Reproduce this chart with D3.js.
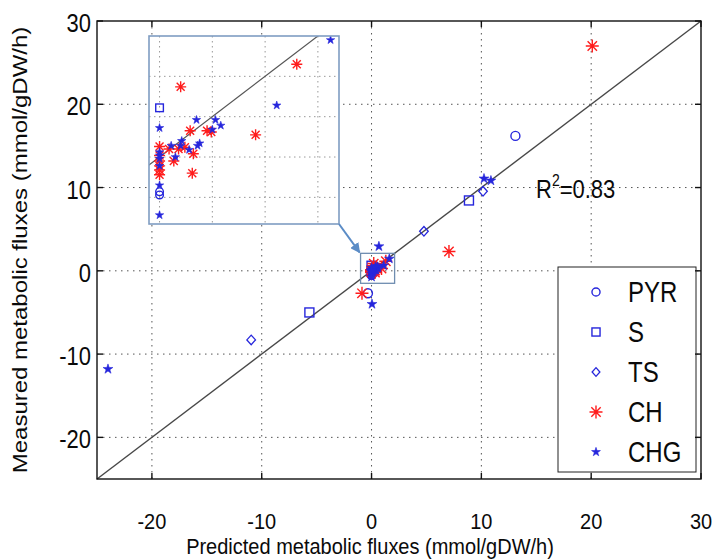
<!DOCTYPE html>
<html>
<head>
<meta charset="utf-8">
<script src="https://cdn.jsdelivr.net/npm/d3@7"></script>
<style>
  body { margin: 0; background: #fff; }
  text { font-family: "Liberation Sans", Arial, Helvetica, sans-serif; fill: #0a0a0a; }
</style>
</head>
<body>
<div id="container"></div>
<script>
// chart size
const WIDTH = 723;
const HEIGHT = 559;
const BLUE = "#2626dc";
const RED = "#ff1c1c";
// the source figure is stretched vertically, text too
const STRETCH = 1.2;

// tick values
const xTicks = [-20, -10, 0, 10, 20, 30];
const yTicks = [-20, -10, 0, 10, 20, 30];
const insetTicks = [0, 0.5, 1, 1.5];
const insetYTicks = [-0.5, 0, 0.5, 1];

// series (predicted = x, measured = y)
const seriesNames = ["PYR", "S", "TS", "CH", "CHG"];

const pyrPred = [13.1, -0.33, 0.0, 0.0];
const pyrMeas = [16.2, -2.7, -0.43, -0.47];

const sPred = [8.87, -5.66, 0.0];
const sMeas = [8.45, -5.0, 0.61];

const tsPred = [10.15, 4.77, -10.96];
const tsMeas = [9.55, 4.75, -8.3];

const chPred = [20.1, 7.05, -0.87, 1.30, 0.20, 0.29, 0.45, 0.49, 0.91, 0.0, 0.09, 0.18, 0.24, 0.32, 0.0, 0.0, 0.135, 0.0, 0.0, 0.31, 0.0];
const chMeas = [27.0, 2.32, -2.7, 1.15, 0.87, 0.325, 0.325, 0.31, 0.275, 0.13, 0.10, 0.10, 0.12, 0.04, 0.02, -0.05, -0.05, -0.11, -0.22, -0.20, -0.16];

const chgPred = [10.24, 10.87, 0.67, 0.04, -24.0, 1.62, 1.11, 0.0, 0.35, 0.53, 0.58, 0.50, 0.21, 0.38, 0.36, 0.11, 0.20, 0.28, 0.0, 0.0, 0.15, 0.0, 0.0, 0.0, 0.0];
const chgMeas = [11.07, 10.83, 2.93, -4.0, -11.8, 1.45, 0.64, 0.36, 0.46, 0.46, 0.39, 0.34, 0.20, 0.17, 0.14, 0.14, 0.14, 0.09, 0.02, -0.02, 0.0, -0.11, -0.35, -0.72, 0.06];

const r2Label = "0.83";

// zoom window shown in the inset
const zoomX = [-1.0, 2.1];
const zoomY = [-1.5, 2.1];
const insetX = [-0.1, 1.7];
const insetY = [-0.83, 1.5];

const series = [
    { name: "PYR", type: "circle", px: pyrPred, py: pyrMeas },
    { name: "S", type: "square", px: sPred, py: sMeas },
    { name: "TS", type: "diamond", px: tsPred, py: tsMeas },
    { name: "CH", type: "asterisk", px: chPred, py: chMeas },
    { name: "CHG", type: "star", px: chgPred, py: chgMeas }
];

const svg = d3.select("#container")
    .append("svg")
    .attr("width", WIDTH)
    .attr("height", HEIGHT);

// main plot box
const plot = { left: 97, right: 701, top: 21, bottom: 479 };

const xScale = d3.scaleLinear().domain([-25, 30]).range([plot.left, plot.right]);
const yScale = d3.scaleLinear().domain([-25, 30]).range([plot.bottom, plot.top]);

// text stretched vertically like the source
const addText = (g, x, y, str, size, anchor, rotate, stretch) => {
    return g.append("text")
        .attr("transform", `translate(${x},${y}) scale(1,${stretch || STRETCH})` + (rotate ? " rotate(-90)" : ""))
        .attr("text-anchor", anchor || "start")
        .style("font-size", size + "px")
        .text(str);
};

// draw one marker at pixel position
const drawMarker = (g, type, cx, cy, scale) => {
    const k = scale || 1;
    if (type === "circle") {
        g.append("circle").attr("cx", cx).attr("cy", cy).attr("r", 4.5 * k)
            .attr("fill", "none").attr("stroke", BLUE).attr("stroke-width", 1.4);
    } else if (type === "square") {
        const s = 4.5 * k;
        g.append("rect").attr("x", cx - s).attr("y", cy - s).attr("width", 2 * s).attr("height", 2 * s)
            .attr("fill", "none").attr("stroke", BLUE).attr("stroke-width", 1.4);
    } else if (type === "diamond") {
        const s = 4.8 * k;
        g.append("path")
            .attr("d", `M${cx},${cy - s}L${cx + s * 0.9},${cy}L${cx},${cy + s}L${cx - s * 0.9},${cy}Z`)
            .attr("fill", "none").attr("stroke", BLUE).attr("stroke-width", 1.3);
    } else if (type === "asterisk") {
        const s = 6.5 * k;
        const d = s * 0.72;
        g.append("path")
            .attr("d", `M${cx - s},${cy}L${cx + s},${cy}M${cx},${cy - s}L${cx},${cy + s}` +
                `M${cx - d},${cy - d}L${cx + d},${cy + d}M${cx - d},${cy + d}L${cx + d},${cy - d}`)
            .attr("stroke", RED).attr("stroke-width", 1.4);
    } else {
        g.append("path")
            .attr("d", d3.symbol().type(d3.symbolStar).size(30 * k * k)())
            .attr("transform", `translate(${cx},${cy})`)
            .attr("fill", BLUE).attr("stroke", BLUE).attr("stroke-width", 0.6);
    }
};

// grid (matlab dotted)
const grid = svg.append("g");
xTicks.filter((t) => t < 30).forEach((t) => {
    grid.append("line")
        .attr("x1", xScale(t)).attr("x2", xScale(t))
        .attr("y1", plot.top).attr("y2", plot.bottom)
        .attr("stroke", "#555").attr("stroke-dasharray", "1.5,4.5");
});
yTicks.filter((t) => t < 30).forEach((t) => {
    grid.append("line")
        .attr("x1", plot.left).attr("x2", plot.right)
        .attr("y1", yScale(t)).attr("y2", yScale(t))
        .attr("stroke", "#555").attr("stroke-dasharray", "1.5,4.5");
});

// y = x line
svg.append("line")
    .attr("x1", xScale(-25)).attr("y1", yScale(-25))
    .attr("x2", xScale(30)).attr("y2", yScale(30))
    .attr("stroke", "#484848").attr("stroke-width", 1.4);

// points
const pts = svg.append("g");
series.forEach((s) => {
    s.px.forEach((v, i) => drawMarker(pts, s.type, xScale(v), yScale(s.py[i])));
});

// zoom box in main plot
svg.append("rect")
    .attr("x", xScale(zoomX[0])).attr("y", yScale(zoomY[1]))
    .attr("width", xScale(zoomX[1]) - xScale(zoomX[0]))
    .attr("height", yScale(zoomY[0]) - yScale(zoomY[1]))
    .attr("fill", "none").attr("stroke", "#6f8db0").attr("stroke-width", 1.3);

// inset
const inset = { left: 149, top: 36, right: 339, bottom: 224 };
const ix = d3.scaleLinear().domain(insetX).range([inset.left, inset.right]);
const iy = d3.scaleLinear().domain(insetY).range([inset.bottom, inset.top]);

svg.append("defs").append("clipPath").attr("id", "insetClip")
    .append("rect")
    .attr("x", inset.left).attr("y", inset.top)
    .attr("width", inset.right - inset.left).attr("height", inset.bottom - inset.top);

svg.append("rect")
    .attr("x", inset.left).attr("y", inset.top)
    .attr("width", inset.right - inset.left).attr("height", inset.bottom - inset.top)
    .attr("fill", "#fff");

const ig = svg.append("g").attr("clip-path", "url(#insetClip)");
insetTicks.forEach((t) => {
    ig.append("line").attr("x1", ix(t)).attr("x2", ix(t))
        .attr("y1", inset.top).attr("y2", inset.bottom)
        .attr("stroke", "#999").attr("stroke-dasharray", "1.5,3.5");
});
insetYTicks.forEach((t) => {
    ig.append("line").attr("x1", inset.left).attr("x2", inset.right)
        .attr("y1", iy(t)).attr("y2", iy(t))
        .attr("stroke", "#999").attr("stroke-dasharray", "1.5,3.5");
});
ig.append("line")
    .attr("x1", ix(-1)).attr("y1", iy(-1))
    .attr("x2", ix(2)).attr("y2", iy(2))
    .attr("stroke", "#555").attr("stroke-width", 1.2);
series.forEach((s) => {
    s.px.forEach((v, i) => {
        const y = s.py[i];
        if (v >= insetX[0] && v <= insetX[1] && y >= insetY[0] && y <= insetY[1]) {
            drawMarker(ig, s.type, ix(v), iy(y), 0.85);
        }
    });
});
svg.append("rect")
    .attr("x", inset.left).attr("y", inset.top)
    .attr("width", inset.right - inset.left).attr("height", inset.bottom - inset.top)
    .attr("fill", "none").attr("stroke", "#7f9dc2").attr("stroke-width", 1.6);

// arrow from inset to zoom box
svg.select("defs").append("marker")
    .attr("id", "arrow").attr("viewBox", "0 0 10 10")
    .attr("refX", 9).attr("refY", 5)
    .attr("markerWidth", 5).attr("markerHeight", 5)
    .attr("orient", "auto")
    .append("path").attr("d", "M0,0L10,5L0,10Z").attr("fill", "#5b8cc6");
svg.append("line")
    .attr("x1", inset.right).attr("y1", inset.bottom)
    .attr("x2", xScale(zoomX[0]) - 1).attr("y2", yScale(zoomY[1]) - 1)
    .attr("stroke", "#5b8cc6").attr("stroke-width", 2)
    .attr("marker-end", "url(#arrow)");

// R^2 annotation
const r2 = addText(svg, 536, 198, "", 22);
r2.append("tspan").text("R");
r2.append("tspan").attr("dy", -10).style("font-size", "14px").text("2");
r2.append("tspan").attr("dy", 10).text("=" + r2Label);

// legend
const legend = svg.append("g");
legend.append("rect")
    .attr("x", 558).attr("y", 267).attr("width", 138).attr("height", 205)
    .attr("fill", "#fff").attr("stroke", "#222").attr("stroke-width", 1);
series.forEach((s, i) => {
    const cy = 292 + i * 40;
    drawMarker(legend, s.type, 596, cy, s.type === "asterisk" ? 1 : 0.9);
    addText(legend, 628, cy + 10, s.name, 24);
});

// axes box and inward ticks
const axes = svg.append("g");
axes.append("rect")
    .attr("x", plot.left).attr("y", plot.top)
    .attr("width", plot.right - plot.left).attr("height", plot.bottom - plot.top)
    .attr("fill", "none").attr("stroke", "#111").attr("stroke-width", 1.4);
const TICK = 6;
xTicks.forEach((t) => {
    axes.append("line").attr("x1", xScale(t)).attr("x2", xScale(t))
        .attr("y1", plot.bottom).attr("y2", plot.bottom - TICK).attr("stroke", "#111").attr("stroke-width", 1.4);
    axes.append("line").attr("x1", xScale(t)).attr("x2", xScale(t))
        .attr("y1", plot.top).attr("y2", plot.top + TICK).attr("stroke", "#111").attr("stroke-width", 1.4);
    addText(axes, xScale(t), 529, t, 20, "middle", false, 1.1);
});
yTicks.forEach((t) => {
    axes.append("line").attr("x1", plot.left).attr("x2", plot.left + TICK)
        .attr("y1", yScale(t)).attr("y2", yScale(t)).attr("stroke", "#111").attr("stroke-width", 1.4);
    axes.append("line").attr("x1", plot.right).attr("x2", plot.right - TICK)
        .attr("y1", yScale(t)).attr("y2", yScale(t)).attr("stroke", "#111").attr("stroke-width", 1.4);
    addText(axes, 91, yScale(t) + 11, t, 22, "end");
});

// axis labels
addText(svg, 370, 554, "Predicted metabolic fluxes (mmol/gDW/h)", 20, "middle", false, 1.1);
addText(svg, 27, 250, "Measured metabolic fluxes (mmol/gDW/h)", 20, "middle", true);
</script>
</body>
</html>
